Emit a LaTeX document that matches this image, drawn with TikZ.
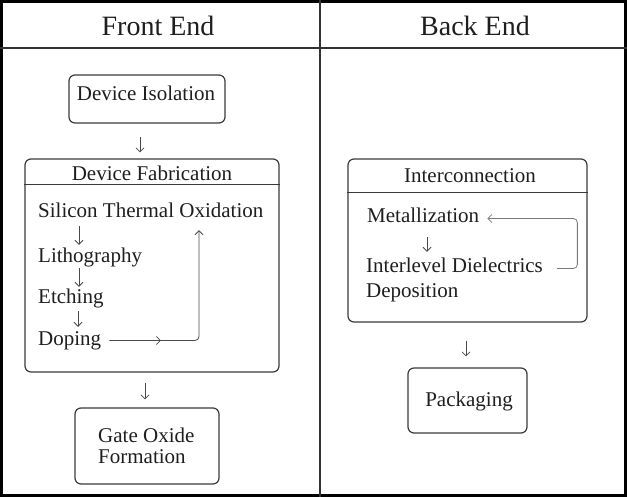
\documentclass[tikz,border=0pt]{standalone}
\usepackage{fontspec}
\setmainfont{Liberation Serif}
\usetikzlibrary{arrows.meta,decorations.markings}
\definecolor{inkc}{HTML}{1E1E1E}
\definecolor{boxc}{HTML}{3A3A3A}
\definecolor{arrc}{HTML}{4A4A4A}
\definecolor{loopc}{HTML}{7A7A7A}
\begin{document}
\begin{tikzpicture}[x=1pt,y=-1pt,
  tip/.tip={Straight Barb[length=4pt,width=8pt,line width=0.8pt]},
  head/.style={inner sep=0pt, font=\fontsize{28}{32}\selectfont, text=inkc},
  txt/.style={inner sep=0pt, anchor=base west, text height=14pt, text depth=5pt,
              font=\fontsize{21}{24}\selectfont, text=inkc},
  ctxt/.style={txt, anchor=base},
  stepbox/.style={draw=boxc, line width=1.2pt, rounded corners=6pt, inner sep=0pt},
  arr/.style={draw=arrc, line width=0.8pt, -tip},
  midarr/.style={postaction={decorate},
    decoration={markings, mark=at position #1 with {\arrow{tip}}}}
]
\useasboundingbox (0,0) rectangle (627,497);

% table frame
\draw[line width=3pt, black] (1.5,1.5) rectangle (625.5,495.5);
\draw[line width=1.6pt, black!80] (0,48) -- (627,48);
\draw[line width=1.6pt, black!80] (320,0) -- (320,497);

% column headings
\node[head, anchor=base] (hfront) at (158,36) {Front End};
\node[head, anchor=base] (hback)  at (475,36) {Back End};

% ---- front end ----
\node[stepbox, minimum width=156pt, minimum height=48pt] (iso) at (147,99) {};
\node[ctxt] (isot) at (146,100.5) {Device Isolation};

\node[stepbox, minimum width=254pt, minimum height=213pt] (fab) at (152,265.5) {};
\draw[draw=boxc, line width=1.2pt] ([yshift=-26pt]fab.north west) -- ([yshift=-26pt]fab.north east);
\node[ctxt] (fabt) at (152,181) {Device Fabrication};

\node[txt] (sto) at (38,218) {Silicon Thermal Oxidation};
\node[txt] (lit) at (38,263) {Lithography};
\node[txt] (etc) at (38,304) {Etching};
\node[txt] (dop) at (38,345) {Doping};

\draw[arr] ([xshift=41pt,yshift=-3pt]sto.south west) -- ([xshift=41pt,yshift=4pt]lit.north west);
\draw[arr] ([xshift=41pt,yshift=0pt]lit.south west) -- ([xshift=41pt,yshift=3pt]etc.north west);
\draw[arr] ([xshift=40pt,yshift=-2pt]etc.south west) -- ([xshift=40pt,yshift=4pt]dop.north west);
\draw[arr, rounded corners=4pt, midarr=0.26]
  ([xshift=8pt]dop.east) -| ([xshift=161pt,yshift=-7pt]sto.south west);

\node[stepbox, minimum width=144pt, minimum height=76pt] (gate) at (147,446) {};
\node[txt] (gate1) at (98,442) {Gate Oxide};
\node[txt] (gate2) at (98,463) {Formation};

\draw[arr] ([xshift=-7pt,yshift=-13pt]iso.south) -- ([xshift=-12pt,yshift=6pt]fab.north);
\draw[arr] ([xshift=-7pt,yshift=-10pt]fab.south) -- ([xshift=-2pt,yshift=8pt]gate.north);

% ---- back end ----
\node[stepbox, minimum width=239pt, minimum height=163pt] (inter) at (467.5,240.5) {};
\draw[draw=boxc, line width=1.2pt] ([yshift=-34pt]inter.north west) -- ([yshift=-34pt]inter.north east);
\node[ctxt] (intert) at (470,183) {Interconnection};

\node[txt] (met) at (367,223) {Metallization};
\node[txt] (ild) at (366,273) {Interlevel Dielectrics};
\node[txt] (dep) at (366,298) {Deposition};

\draw[arr] ([xshift=60pt,yshift=-9pt]met.south west) -- ([xshift=61pt,yshift=7pt]ild.north west);
\draw[arr, draw=loopc, rounded corners=4pt]
  ([xshift=14pt]ild.east) -| ([xshift=98pt]met.east) -- ([xshift=8pt]met.east);

\node[stepbox, minimum width=119pt, minimum height=65pt] (pack) at (467.5,400.5) {};
\node[ctxt] (packt) at (469,406) {Packaging};

\draw[arr] ([xshift=-1.5pt,yshift=-18pt]inter.south) -- ([xshift=-1.5pt,yshift=11pt]pack.north);
\end{tikzpicture}
\end{document}
